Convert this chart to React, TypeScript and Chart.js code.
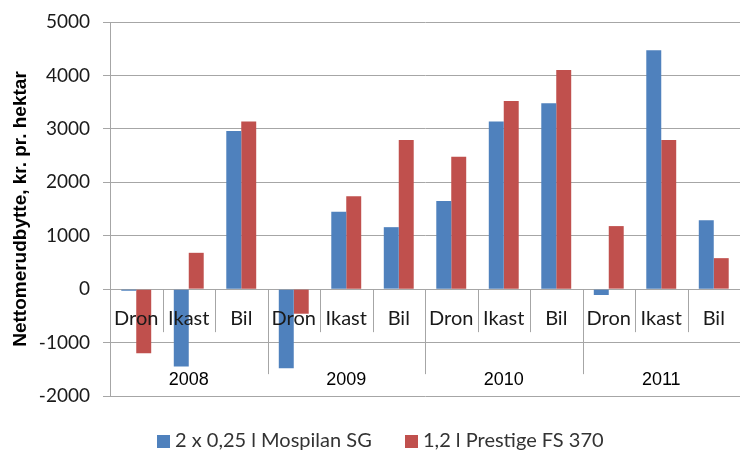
import React, { useEffect, useRef } from "react";
import { Chart, registerables } from "chart.js";

Chart.register(...registerables);

const sites = ["Dron", "Ikast", "Bil"];
const years = ["2008", "2009", "2010", "2011"];
const seriesNames = ["2 x 0,25 l Mospilan SG", "1,2 l Prestige FS 370"];
const mospilan = [-30, -1450, 2960, -1480, 1450, 1160, 1650, 3140, 3480, -110, 4470, 1290];
const prestige = [-1200, 680, 3140, -460, 1740, 2790, 2480, 3520, 4100, 1180, 2790, 580];
const yTicks = [-2000, -1000, 0, 1000, 2000, 3000, 4000, 5000];
const yTitle = "Nettomerudbytte, kr. pr. hektar";

const colors = ["#4F81BD", "#C0504D"];
const gridColor = "#a6a6a6";

const labels: string[] = [];
years.forEach(() => sites.forEach((s) => labels.push(s)));

const groupAxisPlugin = {
  id: "groupAxis",
  afterDatasetsDraw(chart: any) {
    const { ctx, scales } = chart;
    const x = scales.x;
    const y = scales.y;
    const n = chart.data.labels.length;
    const w = (x.right - x.left) / n;
    const y0 = y.getPixelForValue(0);
    ctx.save();
    ctx.strokeStyle = gridColor;
    ctx.lineWidth = 1;
    for (let i = 1; i < n; i++) {
      const px = Math.round(x.left + i * w) + 0.5;
      const isYear = i % sites.length === 0;
      ctx.beginPath();
      ctx.moveTo(px, y0);
      ctx.lineTo(px, isYear ? y0 + 85 : y0 + 43);
      ctx.stroke();
    }
    ctx.fillStyle = "#1a1a1a";
    ctx.font = "20px Lato";
    ctx.textAlign = "center";
    ctx.textBaseline = "middle";
    chart.data.labels.forEach((lab: string, i: number) => {
      ctx.fillText(lab, x.getPixelForValue(i), y0 + 29);
    });
    ctx.fillStyle = "#000";
    ctx.font = "18px 'Liberation Sans'";
    years.forEach((yr, j) => {
      const cx = x.left + (j * sites.length + sites.length / 2) * w;
      ctx.fillText(yr, cx, y0 + 91);
    });
    ctx.restore();
  },
  afterDraw(chart: any) {
    const { ctx } = chart;
    ctx.save();
    ctx.font = "20px Lato";
    ctx.textBaseline = "middle";
    ctx.textAlign = "left";
    const starts = [157, 405];
    const cy = 441;
    chart.data.datasets.forEach((ds: any, i: number) => {
      const sx = starts[i];
      ctx.fillStyle = ds.backgroundColor;
      ctx.fillRect(sx, cy - 6, 13, 13);
      ctx.fillStyle = "#333";
      ctx.fillText(ds.label, sx + 18, cy);
    });
    ctx.restore();
  },
};

export default function App() {
  const ref = useRef<HTMLCanvasElement>(null);
  useEffect(() => {
    if (!ref.current) return;
    const chart = new Chart(ref.current, {
      type: "bar",
      data: {
        labels,
        datasets: [
          { label: seriesNames[0], data: mospilan, backgroundColor: colors[0] },
          { label: seriesNames[1], data: prestige, backgroundColor: colors[1] },
        ],
      },
      options: {
        responsive: false,
        animation: false,
        devicePixelRatio: 1,
        layout: { padding: { top: 22, bottom: 54, left: 0, right: -6 } },
        datasets: { bar: { categoryPercentage: 0.57, barPercentage: 1 } } as any,
        plugins: { legend: { display: false }, tooltip: { enabled: false } },
        scales: {
          x: { display: false },
          y: {
            min: -2000,
            max: 5000,
            afterBuildTicks: (s: any) => {
              s.ticks = yTicks.map((v) => ({ value: v }));
            },
            afterFit: (s: any) => {
              s.width = 110;
              s.paddingTop = 0;
              s.paddingBottom = 0;
            },
            ticks: {
              font: { family: "Lato", size: 19 },
              color: "#1a1a1a",
              padding: 13,
              callback: (v: any) => String(v),
            },
            grid: { color: gridColor, tickLength: 7, lineWidth: 1 },
            border: { display: true, color: gridColor },
            title: {
              display: true,
              text: yTitle,
              font: { family: "'Liberation Sans'", size: 19, weight: "bold" },
              color: "#000",
              padding: { top: 9, bottom: 0 },
            },
          },
        },
      },
      plugins: [groupAxisPlugin],
    });
    return () => chart.destroy();
  }, []);
  return (
    <div style={{ position: "fixed", left: 0, top: 0, width: 740, height: 450, background: "#fff" }}>
      <canvas ref={ref} width={740} height={450} />
    </div>
  );
}
